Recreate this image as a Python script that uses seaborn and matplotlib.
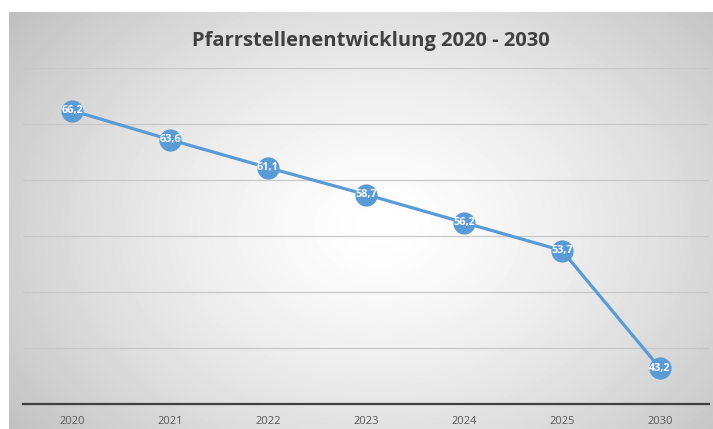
import numpy as np
import pandas as pd
import matplotlib.pyplot as plt
import seaborn as sns

# Data
years = ["2020", "2021", "2022", "2023", "2024", "2025", "2030"]
stellen = [66.2, 63.6, 61.1, 58.7, 56.2, 53.7, 43.2]
title = "Pfarrstellenentwicklung 2020 - 2030"

df = pd.DataFrame({"Jahr": years, "Stellen": stellen})
df["pos"] = range(len(years))

sns.set_theme(style="white")
plt.rcParams["font.family"] = ["Open Sans", "DejaVu Sans"]

fig = plt.figure(figsize=(7.13, 4.29), dpi=100)
fig.patch.set_facecolor("white")

W, H = 713, 429

# background panel with radial gradient (Excel style)
bg = fig.add_axes([9 / W, 0, 1 - 9 / W, 1 - 12 / H])
yy, xx = np.mgrid[0:417, 0:704]
cx, cy = 370, 215
r = np.sqrt(((xx - cx) / 400.0) ** 2 + ((yy - cy) / 300.0) ** 2)
r = np.clip(r, 0, 1.2)
shade = 1.0 - 0.2 * r ** 1.4
bg.imshow(shade, cmap="gray", vmin=0, vmax=1, aspect="auto",
          extent=[0, 1, 0, 1], interpolation="bilinear")
bg.set_axis_off()

# plot area
left, right = 23, 709
top, bottom = 68, 404
ax = fig.add_axes([left / W, 1 - bottom / H, (right - left) / W, (bottom - top) / H])
ax.patch.set_alpha(0)

sns.lineplot(data=df, x="pos", y="Stellen", ax=ax, color="#5b9bd5",
             linewidth=2.3, marker="o", markersize=16,
             markeredgewidth=0, zorder=3)

for x, v in zip(df["pos"], df["Stellen"]):
    lab = ("%.1f" % v).replace(".", ",")
    ax.text(x, v, lab, ha="center", va="center",
            color="white", fontsize=7.8, fontweight="bold", zorder=4)

ax.set_xlim(-0.5, len(years) - 0.5)
ax.set_ylim(40, 70)
ax.set_yticks([45, 50, 55, 60, 65, 70])
ax.set_yticklabels([])
ax.yaxis.grid(True, color="#c8c8c8", linewidth=0.9)
ax.set_axisbelow(True)
ax.set_xticks(df["pos"])
ax.set_xticklabels(years, fontsize=8, color="#595959")
ax.tick_params(axis="both", length=0, pad=9)
for s in ["top", "right", "left"]:
    ax.spines[s].set_visible(False)
ax.spines["bottom"].set_color("#404040")
ax.spines["bottom"].set_linewidth(1.6)
ax.set_xlabel("")
ax.set_ylabel("")

fig.text(0.52, 1 - 41 / H, title, ha="center", va="center",
         fontsize=14.5, fontweight="bold", color="#404040")

fig.savefig("out.png", dpi=100)
